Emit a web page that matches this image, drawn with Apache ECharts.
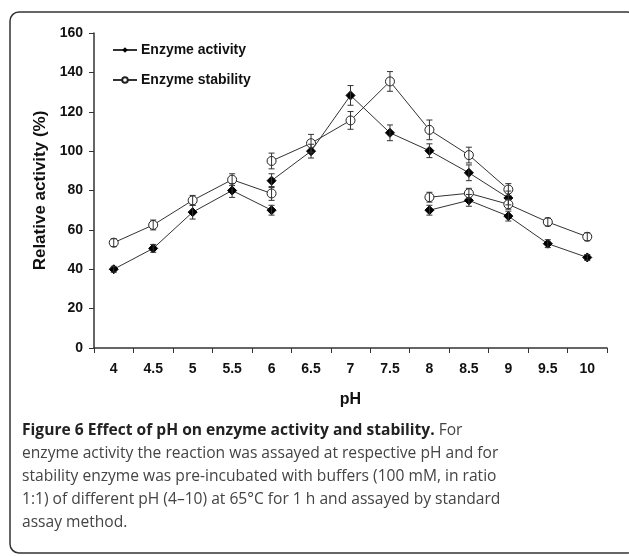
<!DOCTYPE html>
<html>
<head>
<meta charset="utf-8">
<script src="https://cdn.jsdelivr.net/npm/echarts@6/dist/echarts.min.js"></script>
<style>
  html, body { margin: 0; padding: 0; background: #fff; }
  #chart { width: 629px; height: 556px; }
</style>
</head>
<body>
<div id="chart"></div>
<script>
// pH categories on the x axis
const phLabels = ['4', '4.5', '5', '5.5', '6', '6.5', '7', '7.5', '8', '8.5', '9', '9.5', '10'];

// three buffer ranges (points overlap at pH 6 and 8-9)
const phA = ['4', '4.5', '5', '5.5', '6'];
const phB = ['6', '6.5', '7', '7.5', '8', '8.5', '9'];
const phC = ['8', '8.5', '9', '9.5', '10'];

// enzyme activity (%) and error (+/-)
const activityA = [40, 50.6, 69, 80, 70];
const activityB = [85, 100, 128.3, 109.3, 100.2, 89, 76.2];
const activityC = [70, 75, 67, 53, 46];
const activityErrA = [1.5, 2, 3.5, 3.5, 2.5];
const activityErrB = [3.5, 3.5, 5, 4, 3.5, 4, 3.5];
const activityErrC = [2.5, 3, 2.5, 2, 1.5];

// enzyme stability (%) and error (+/-)
const stabilityA = [53.5, 62.5, 75, 85.5, 78.5];
const stabilityB = [95, 104, 115.6, 135.4, 110.8, 98, 80.5];
const stabilityC = [76.6, 78.6, 73, 64, 56.5];
const stabilityErrA = [2, 2.5, 2.5, 3, 3.5];
const stabilityErrB = [4, 4.5, 4.5, 5, 5, 4, 3];
const stabilityErrC = [2.5, 2.5, 2.5, 2, 2];

const yTicks = { min: 0, max: 160, step: 20 };

const chart = echarts.init(document.getElementById('chart'));

function pairs(xs, ys) {
  return xs.map((x, i) => [x, ys[i]]);
}
function errRows(xs, ys, es) {
  return xs.map((x, i) => [x, ys[i] - es[i], ys[i] + es[i]]);
}

const lineBase = {
  type: 'line',
  lineStyle: { color: '#333', width: 1 },
  emphasis: { disabled: true },
  z: 3
};
const actStyle = Object.assign({}, lineBase, {
  name: 'Enzyme activity',
  symbol: 'diamond',
  symbolSize: 9,
  itemStyle: { color: '#000', borderColor: '#000' }
});
const stabStyle = Object.assign({}, lineBase, {
  name: 'Enzyme stability',
  symbol: 'circle',
  symbolSize: 9,
  itemStyle: { color: '#fff', borderColor: '#222', borderWidth: 1 }
});

function errorBars(rows) {
  return {
    type: 'custom',
    silent: true,
    z: 5,
    data: rows,
    renderItem: function (params, api) {
      const x = api.value(0);
      const lo = api.coord([x, api.value(1)]);
      const hi = api.coord([x, api.value(2)]);
      const w = 3;
      const st = { stroke: '#333', lineWidth: 1 };
      return {
        type: 'group',
        children: [
          { type: 'line', shape: { x1: lo[0], y1: lo[1], x2: hi[0], y2: hi[1] }, style: st },
          { type: 'line', shape: { x1: lo[0] - w, y1: lo[1], x2: lo[0] + w, y2: lo[1] }, style: st },
          { type: 'line', shape: { x1: hi[0] - w, y1: hi[1], x2: hi[0] + w, y2: hi[1] }, style: st }
        ]
      };
    }
  };
}

const boldAxis = { fontFamily: 'Liberation Sans, Arial', fontWeight: 'bold', color: '#111' };

chart.setOption({
  animation: false,
  backgroundColor: '#fff',
  grid: { left: 94, right: 22, top: 33, bottom: 208 },
  legend: {
    orient: 'vertical',
    left: 107,
    top: 38,
    itemWidth: 24,
    itemHeight: 7,
    itemGap: 16,
    data: ['Enzyme activity', 'Enzyme stability'],
    textStyle: Object.assign({ fontSize: 14, padding: [0, 0, 0, -1] }, boldAxis)
  },
  xAxis: {
    type: 'category',
    data: phLabels,
    boundaryGap: true,
    name: 'pH',
    nameLocation: 'middle',
    nameGap: 44,
    nameTextStyle: Object.assign({ fontSize: 16 }, boldAxis),
    axisLine: { lineStyle: { color: '#333', width: 1.5 } },
    axisTick: { show: true, length: 5, alignWithLabel: false, lineStyle: { color: '#333' } },
    axisLabel: Object.assign({ fontSize: 14, margin: 14 }, boldAxis),
    splitLine: { show: false }
  },
  yAxis: {
    type: 'value',
    min: yTicks.min,
    max: yTicks.max,
    interval: yTicks.step,
    name: 'Relative activity (%)',
    nameLocation: 'middle',
    nameGap: 43,
    nameTextStyle: Object.assign({ fontSize: 17 }, boldAxis),
    axisLine: { show: true, lineStyle: { color: '#333', width: 1.5 } },
    axisTick: { show: true, length: 5, lineStyle: { color: '#333' } },
    axisLabel: Object.assign({ fontSize: 14, margin: 11 }, boldAxis),
    splitLine: { show: false }
  },
  series: [
    Object.assign({}, actStyle, { data: pairs(phA, activityA) }),
    Object.assign({}, actStyle, { data: pairs(phB, activityB) }),
    Object.assign({}, actStyle, { data: pairs(phC, activityC) }),
    Object.assign({}, stabStyle, { data: pairs(phA, stabilityA) }),
    Object.assign({}, stabStyle, { data: pairs(phB, stabilityB) }),
    Object.assign({}, stabStyle, { data: pairs(phC, stabilityC) }),
    errorBars(errRows(phA, activityA, activityErrA)),
    errorBars(errRows(phB, activityB, activityErrB)),
    errorBars(errRows(phC, activityC, activityErrC)),
    errorBars(errRows(phA, stabilityA, stabilityErrA)),
    errorBars(errRows(phB, stabilityB, stabilityErrB)),
    errorBars(errRows(phC, stabilityC, stabilityErrC))
  ],
  graphic: [
    {
      type: 'rect',
      silent: true,
      shape: { x: 10, y: 12, width: 626, height: 541, r: 9 },
      style: { fill: 'none', stroke: '#333', lineWidth: 1.5 }
    },
    {
      type: 'text',
      left: 22,
      top: 419,
      style: {
        text: '{b|Figure 6 Effect of pH on enzyme activity and stability.} For\n' +
          'enzyme activity the reaction was assayed at respective pH and for\n' +
          'stability enzyme was pre-incubated with buffers (100 mM, in ratio\n' +
          '1:1) of different pH (4\u201310) at 65\u00b0C for 1 h and assayed by standard\n' +
          'assay method.',
        fontFamily: 'Open Sans',
        fontSize: 15.6,
        lineHeight: 23,
        fill: '#444',
        rich: {
          b: { fontFamily: 'Open Sans', fontSize: 15.6, fontWeight: 'bold', fill: '#222', lineHeight: 23 }
        }
      }
    }
  ]
});
</script>
</body>
</html>
